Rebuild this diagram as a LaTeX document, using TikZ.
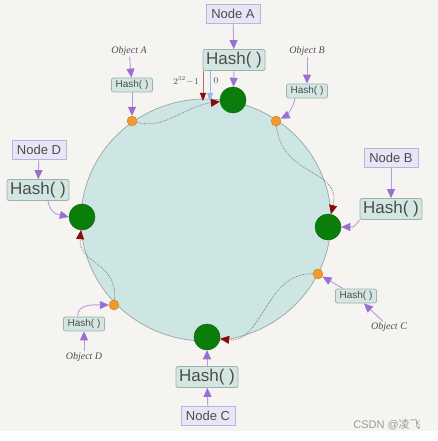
\documentclass[tikz,border=0pt]{standalone}
\usepackage{fontspec}
\setsansfont{Liberation Sans}
\newfontfamily\objfont{Liberation Serif}
\newfontfamily\cjk{Noto Sans CJK SC}
\usepackage{xcolor}
\usetikzlibrary{arrows.meta, positioning, shapes.geometric}

\definecolor{paper}{HTML}{F6F4F1}
\definecolor{ringfill}{HTML}{CDE6E4}
\definecolor{ringline}{HTML}{A0ACAA}
\definecolor{boxfill}{HTML}{E7E5F6}
\definecolor{boxline}{HTML}{B9B5DA}
\definecolor{hashfill}{HTML}{D3E6E2}
\definecolor{hashline}{HTML}{9DB2AE}
\definecolor{txt}{HTML}{4D4D4D}
\definecolor{linkcol}{HTML}{9A6FD2}
\definecolor{walkcol}{HTML}{808080}
\definecolor{tipred}{HTML}{8B0A0A}
\definecolor{servfill}{HTML}{0B7D0B}
\definecolor{keyfill}{HTML}{F29A2E}
\definecolor{zeroblue}{HTML}{8FBFE6}

\begin{document}
\begin{tikzpicture}[x=1pt, y=-1pt,
  nodebox/.style={draw=boxline, fill=boxfill, line width=0.8pt, text=txt,
    font=\sffamily\fontsize{13}{13}\selectfont, minimum width=54pt, minimum height=19pt, inner sep=2pt},
  hashbig/.style={draw=hashline, fill=hashfill, line width=0.8pt, rounded corners=2pt, text=txt,
    font=\sffamily\fontsize{17}{17}\selectfont, minimum width=62pt, minimum height=21pt, inner sep=2pt},
  hashsmall/.style={draw=hashline, fill=hashfill, line width=0.8pt, rounded corners=2pt, text=txt,
    font=\sffamily\fontsize{10}{10}\selectfont, minimum width=41pt, minimum height=14pt, inner sep=1.5pt},
  objlabel/.style={text=txt, font=\objfont\itshape\fontsize{10}{10}\selectfont, inner sep=1pt},
  server/.style={circle, fill=servfill, draw=servfill!80!black, line width=0.5pt, minimum size=26pt, inner sep=0pt},
  key/.style={circle, fill=keyfill, draw=keyfill!85!black, line width=0.4pt, minimum size=10pt, inner sep=0pt},
  link/.style={draw=linkcol!70!white, line width=0.9pt, -{Triangle[length=9pt, width=8pt, color=linkcol, fill=linkcol]}},
  walk/.style={draw=walkcol, line width=0.8pt, densely dotted, -{Triangle[length=9pt, width=8pt, color=tipred, fill=tipred]}}]

  % paper and ring
  \fill [paper] (0, 0) rectangle (438, 441);
  \fill [white] (0, 431) rectangle (438, 441);
  \filldraw [fill=ringfill, draw=ringline, line width=0.8pt] (206, 220) ellipse [x radius=125pt, y radius=121pt];

  % servers and keys on the ring
  \node [server] (sA) at (233, 100) {};
  \node [server] (sB) at (328, 227) {};
  \node [server] (sC) at (207, 337) {};
  \node [server] (sD) at (82, 217) {};
  \node [key] (kA) at (132, 121) {};
  \node [key] (kB) at (276, 121) {};
  \node [key] (kC) at (318, 274) {};
  \node [key] (kD) at (114, 305) {};

  % node boxes and their hash
  \node [nodebox] (nA) at (233, 14) {Node A};
  \node [hashbig] (hA) at (234, 60) {Hash( )};
  \node [nodebox] (nB) at (391, 158) {Node B};
  \node [hashbig] (hB) at (391, 209) {Hash( )};
  \node [nodebox] (nC) at (208, 416) {Node C};
  \node [hashbig] (hC) at (207, 377) {Hash( )};
  \node [nodebox] (nD) at (39, 150) {Node D};
  \node [hashbig] (hD) at (38, 190) {Hash( )};

  % objects and their hash
  \node [objlabel] (oA) at (129, 51) {Object A};
  \node [hashsmall] (hsA) at (132, 85) {Hash( )};
  \node [objlabel] (oB) at (307, 51) {Object B};
  \node [hashsmall] (hsB) at (307, 91) {Hash( )};
  \node [objlabel] (oC) at (389, 327) {Object C};
  \node [hashsmall] (hsC) at (356, 296) {Hash( )};
  \node [objlabel] (oD) at (84, 357) {Object D};
  \node [hashsmall] (hsD) at (84, 324) {Hash( )};

  % hashing links
  \draw [link] (nA) -- (hA);
  \draw [link] (hA.south) -- (sA);
  \draw [link] (nB) -- (hB);
  \draw [link] (hB.south west) .. controls +(-8, 10) and +(12, 0) .. (sB.east);
  \draw [link] (nC) -- (hC);
  \draw [link] (hC) -- (sC);
  \draw [link] (nD) -- (hD);
  \draw [link] (hD.south) ++(10, 0) .. controls +(2, 14) and +(-8, -2) .. (sD.west);
  \draw [link] (oA) -- (hsA);
  \draw [link] (hsA) -- (kA);
  \draw [link] (oB) -- (hsB);
  \draw [link] (hsB.south) ++(-12, 0) .. controls +(-2, 12) and +(8, -4) .. (kB);
  \draw [link] (oC) -- (hsC);
  \draw [link] (hsC) -- (kC);
  \draw [link] (oD) -- (hsD);
  \draw [link] (hsD.north) ++(-6, 0) .. controls +(-2, -14) and +(-10, 0) .. (kD.west);

  % walk to next server
  \draw [walk] (kA) .. controls (165, 130) and (185, 106) .. (sA);
  \draw [walk] (kB) .. controls (282, 178) and (342, 168) .. (sB);
  \draw [walk] (kC) .. controls (266, 272) and (262, 344) .. (sC);
  \draw [walk] (kD) .. controls (118, 262) and (78, 264) .. (sD);

  % start of the ring
  \coordinate (maxtop) at (203, 71);
  \coordinate (maxend) at (203, 101);
  \coordinate (zerotop) at (210, 71);
  \coordinate (zeroend) at (210, 101);
  \draw [line width=0.9pt, draw=tipred!60!white, -{Triangle[length=8pt, width=6pt, color=tipred, fill=tipred]}] (maxtop) -- (maxend);
  \draw [line width=0.9pt, draw=zeroblue, -{Triangle[length=8pt, width=6pt, color=zeroblue, fill=zeroblue]}] (zerotop) -- (zeroend);
  \node [text=txt, font=\fontsize{9}{9}\selectfont, inner sep=0pt] (lmax) at (186, 81) {$2^{32}\!-\!1$};
  \node [text=txt, font=\fontsize{9}{9}\selectfont, inner sep=0pt] (lzero) at (216, 81) {0};

  % watermark
  \node [text=gray!80, font=\sffamily\fontsize{11}{11}\selectfont, inner sep=0pt] (mark) at (387, 425) {CSDN @{\cjk 凌飞}};
\end{tikzpicture}
\end{document}
